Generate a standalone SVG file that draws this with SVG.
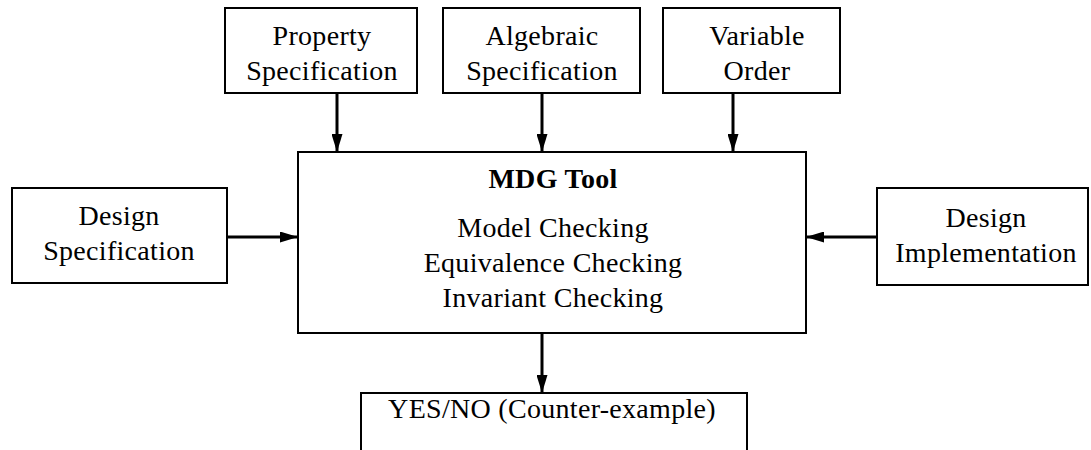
<svg xmlns="http://www.w3.org/2000/svg" width="1091" height="450" viewBox="0 0 1091 450">
<style>
.box{fill:#fff;stroke:#000;stroke-width:2}
.t{font-family:"Liberation Serif","Times New Roman",serif;font-size:28px;letter-spacing:0.3px;text-anchor:middle;fill:#000}
.b{font-weight:bold}
.c{stroke:#000;stroke-width:3;fill:none}
</style>
<defs>
<marker id="ah" viewBox="0 0 18 11" refX="18" refY="5.5" markerWidth="18" markerHeight="11" markerUnits="userSpaceOnUse" orient="auto">
<path d="M0,0 L18,5.5 L0,11 Z" fill="#000"/>
</marker>
</defs>
<rect width="1091" height="450" fill="#fff"/>
<g id="connectors">
<line class="c" x1="337" y1="93" x2="337" y2="152" marker-end="url(#ah)"/>
<line class="c" x1="542" y1="93" x2="542" y2="152" marker-end="url(#ah)"/>
<line class="c" x1="733" y1="93" x2="733" y2="152" marker-end="url(#ah)"/>
<line class="c" x1="227" y1="237" x2="298" y2="237" marker-end="url(#ah)"/>
<line class="c" x1="877" y1="237" x2="806" y2="237" marker-end="url(#ah)"/>
<line class="c" x1="542" y1="333" x2="542" y2="393" marker-end="url(#ah)"/>
</g>
<g id="property">
<rect class="box" x="225" y="8" width="192" height="85"/>
<text class="t" x="322" y="45">Property</text>
<text class="t" x="322" y="80">Specification</text>
</g>
<g id="algebraic">
<rect class="box" x="443" y="8" width="197" height="85"/>
<text class="t" x="542" y="45">Algebraic</text>
<text class="t" x="542" y="80">Specification</text>
</g>
<g id="variable">
<rect class="box" x="663" y="8" width="177" height="85"/>
<text class="t" x="757" y="45">Variable</text>
<text class="t" x="757" y="80">Order</text>
</g>
<g id="mdg">
<rect class="box" x="298" y="152" width="508" height="181"/>
<text class="t b" x="553" y="188">MDG Tool</text>
<text class="t" x="553" y="237">Model Checking</text>
<text class="t" x="553" y="272">Equivalence Checking</text>
<text class="t" x="553" y="307">Invariant Checking</text>
</g>
<g id="design-spec">
<rect class="box" x="12" y="188" width="215" height="95"/>
<text class="t" x="119" y="225">Design</text>
<text class="t" x="119" y="260">Specification</text>
</g>
<g id="design-impl">
<rect class="box" x="877" y="188" width="211" height="97"/>
<text class="t" x="986" y="227">Design</text>
<text class="t" x="986" y="262">Implementation</text>
</g>
<g id="result">
<rect class="box" x="361" y="393" width="386" height="80"/>
<text class="t" x="552" y="418">YES/NO (Counter-example)</text>
</g>
</svg>
